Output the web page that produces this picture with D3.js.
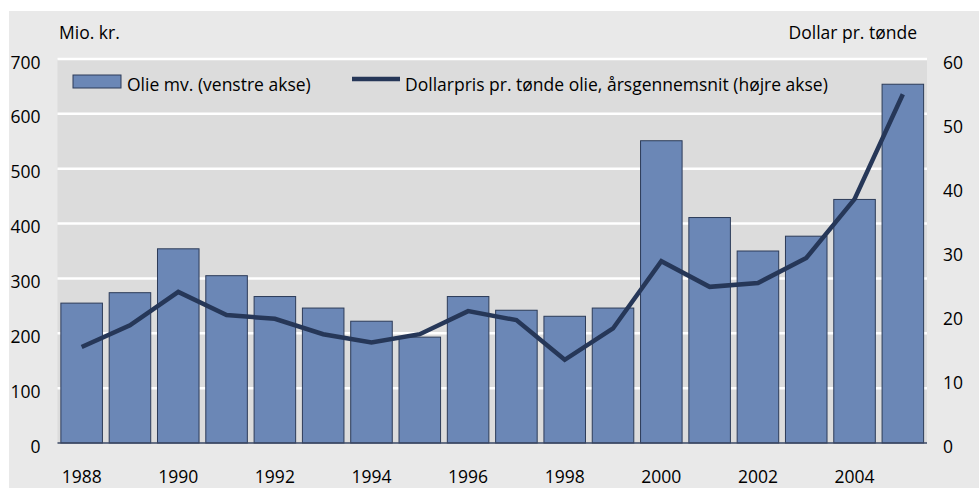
<!DOCTYPE html>
<html>
<head>
<meta charset="utf-8">
<title>Olie mv. og dollarpris</title>
<script src="https://cdn.jsdelivr.net/npm/d3@7/dist/d3.min.js"></script>
<style>
body { margin: 0; background: #fff; }
text { font-family: "Open Sans", sans-serif; font-size: 17.5px; fill: #000; }
</style>
</head>
<body>
<div id="grafico"></div>
<script>
// data
var years = ["1988","1989","1990","1991","1992","1993","1994","1995","1996",
             "1997","1998","1999","2000","2001","2002","2003","2004","2005"];
var olie = [255, 274, 354, 305, 267, 246, 222, 193, 267,
            242, 231, 246, 551, 411, 350, 377, 444, 654];
var dollarpris = [15.0, 18.4, 23.6, 20.0, 19.4, 17.0, 15.7, 17.0, 20.6,
                  19.2, 13.0, 17.9, 28.4, 24.4, 25.0, 28.9, 38.1, 54.5];
var leftTicks = [0, 100, 200, 300, 400, 500, 600, 700];
var rightTicks = [0, 10, 20, 30, 40, 50, 60];
var yearLabels = ["1988","1990","1992","1994","1996","1998","2000","2002","2004"];

var W = 979, H = 488;
var margin = {top: 59, right: 52, bottom: 45, left: 57.5};
var width = W - margin.left - margin.right,
    height = H - margin.top - margin.bottom;

var svg = d3.select("#grafico").append("svg")
    .attr("width", W)
    .attr("height", H);

// grey panel behind everything
svg.append("rect")
    .attr("x", 9).attr("y", 11)
    .attr("width", W - 9).attr("height", H - 11)
    .attr("fill", "#e9e9e9");

var g = svg.append("g")
    .attr("transform", "translate(" + margin.left + "," + margin.top + ")");

g.append("rect")
    .attr("width", width).attr("height", height)
    .attr("fill", "#dcdcdc");

var x = d3.scaleBand()
    .domain(years)
    .range([0, width])
    .paddingInner(0.14)
    .paddingOuter(0.07);

var yL = d3.scaleLinear().domain([0, 700]).range([height, 0]);
var yR = d3.scaleLinear().domain([0, 60]).range([height, 0]);

// gridlines
g.selectAll(".grid")
    .data(leftTicks.slice(1))
  .enter().append("line")
    .attr("class", "grid")
    .attr("x1", 0).attr("x2", width)
    .attr("y1", function(d) { return yL(d); })
    .attr("y2", function(d) { return yL(d); })
    .attr("stroke", "#fff")
    .attr("stroke-width", 2.5);

// left axis
var axisL = g.append("g")
    .call(d3.axisLeft(yL).tickValues(leftTicks).tickSize(0).tickPadding(17));
axisL.select(".domain").remove();
axisL.selectAll("text").attr("dy", "9px").style("font-size", "17.5px").style("font-family", "'Open Sans', sans-serif");

// right axis
var axisR = g.append("g")
    .attr("transform", "translate(" + width + ",0)")
    .call(d3.axisRight(yR).tickValues(rightTicks).tickSize(0).tickPadding(16));
axisR.select(".domain").remove();
axisR.selectAll("text").attr("dy", "9px").style("font-size", "17.5px").style("font-family", "'Open Sans', sans-serif");

// bars
g.selectAll(".bar")
    .data(olie)
  .enter().append("rect")
    .attr("class", "bar")
    .attr("x", function(d, i) { return x(years[i]); })
    .attr("y", function(d) { return yL(d); })
    .attr("width", x.bandwidth())
    .attr("height", function(d) { return height - yL(d); })
    .attr("fill", "#6b87b6")
    .attr("stroke", "#2c3b58")
    .attr("stroke-width", 1);

// baseline
g.append("line")
    .attr("x1", 0).attr("x2", width)
    .attr("y1", height).attr("y2", height)
    .attr("stroke", "#3b4864")
    .attr("stroke-width", 1.5);

// price line
var line = d3.line()
    .x(function(d, i) { return x(years[i]) + x.bandwidth() / 2; })
    .y(function(d) { return yR(d); });

g.append("path")
    .datum(dollarpris)
    .attr("d", line)
    .attr("fill", "none")
    .attr("stroke", "#263758")
    .attr("stroke-width", 4.5)
    .attr("stroke-linejoin", "miter");

// x labels every other year
var axisX = g.append("g")
    .attr("transform", "translate(0," + height + ")")
    .call(d3.axisBottom(x).tickValues(yearLabels).tickSize(0).tickPadding(28));
axisX.select(".domain").remove();
axisX.selectAll("text").style("font-size", "17.5px").style("font-family", "'Open Sans', sans-serif");

// unit labels
svg.append("text").attr("x", 59).attr("y", 39).text("Mio. kr.");
svg.append("text").attr("x", 917).attr("y", 39).attr("text-anchor", "end").text("Dollar pr. tønde");

// legend
var leg = svg.append("g");
leg.append("rect")
    .attr("x", 73).attr("y", 75).attr("width", 48).attr("height", 13)
    .attr("fill", "#6b87b6").attr("stroke", "#2c3b58").attr("stroke-width", 1);
leg.append("text").attr("x", 127).attr("y", 91).text("Olie mv. (venstre akse)");
leg.append("line")
    .attr("x1", 352).attr("x2", 400).attr("y1", 79).attr("y2", 79)
    .attr("stroke", "#263758").attr("stroke-width", 4.5);
leg.append("text").attr("x", 405).attr("y", 91).text("Dollarpris pr. tønde olie, årsgennemsnit (højre akse)");
</script>
</body>
</html>
